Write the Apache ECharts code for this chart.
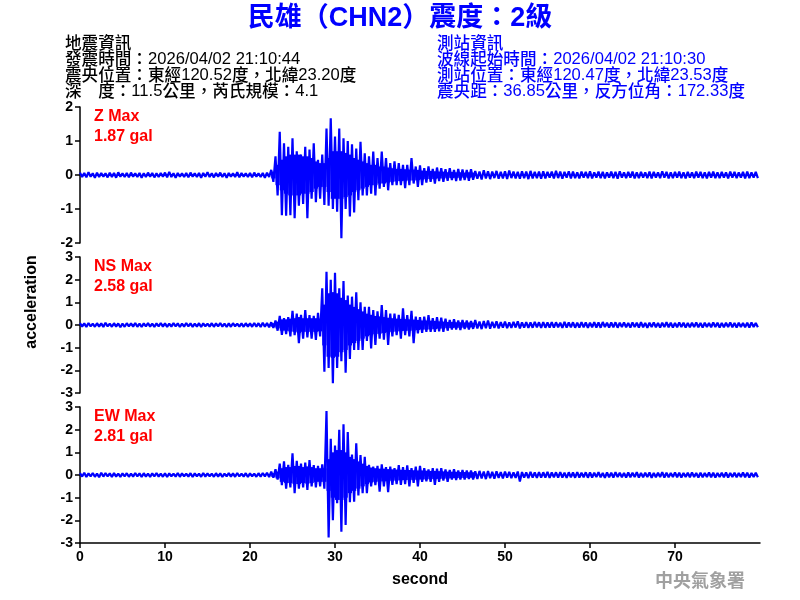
<!DOCTYPE html>
<html><head><meta charset="utf-8">
<script src="https://cdn.jsdelivr.net/npm/echarts@6/dist/echarts.min.js"></script>
<style>html,body{margin:0;padding:0;background:#fff}#c{width:800px;height:600px}</style>
</head><body><div id="c"></div>
<script>
// sample time step (s) for each max/min pair
const binSec = 0.5;
const xTicks = [0,10,20,30,40,50,60,70];
const zTicks = [-2,-1,0,1,2];
const hTicks = [-3,-2,-1,0,1,2,3];
const panelNames = ['Z Max','NS Max','EW Max'];
const panelMax = ['1.87 gal','2.58 gal','2.81 gal'];

const zHi = [0.07,0.06,0.08,0.05,0.07,0.06,0.05,0.07,0.06,0.08,
0.05,0.06,0.07,0.05,0.06,0.05,0.07,0.06,0.05,0.06,
0.07,0.09,0.05,0.06,0.05,0.06,0.07,0.05,0.06,0.06,
0.08,0.05,0.06,0.07,0.05,0.06,0.05,0.08,0.06,0.05,
0.06,0.07,0.05,0.06,0.07,0.15,0.55,1.27,0.93,0.83,
1.08,0.7,0.6,0.83,0.75,0.93,0.45,0.6,1.37,1.67,
1.13,1.37,1.08,1.0,0.9,0.78,0.98,0.64,0.55,0.69,
0.5,0.69,0.5,0.35,0.4,0.35,0.3,0.3,0.5,0.25,
0.28,0.2,0.25,0.18,0.22,0.2,0.17,0.2,0.15,0.18,
0.16,0.15,0.17,0.12,0.1,0.14,0.11,0.1,0.12,0.09,
0.11,0.13,0.1,0.09,0.11,0.1,0.12,0.09,0.1,0.11,
0.09,0.1,0.12,0.1,0.09,0.11,0.1,0.08,0.1,0.09,
0.11,0.08,0.1,0.09,0.08,0.1,0.09,0.11,0.08,0.09,
0.1,0.08,0.09,0.08,0.1,0.09,0.08,0.11,0.09,0.08,
0.09,0.1,0.08,0.09,0.08,0.1,0.09,0.08,0.09,0.1,
0.08,0.09,0.08,0.1,0.09,0.08,0.09,0.1,0.08,0.09];
const zLo = [-0.06,-0.07,-0.05,-0.08,-0.06,-0.05,-0.07,-0.06,-0.08,-0.05,
-0.06,-0.07,-0.05,-0.06,-0.08,-0.06,-0.05,-0.07,-0.06,-0.05,
-0.07,-0.06,-0.08,-0.05,-0.06,-0.07,-0.05,-0.06,-0.08,-0.05,
-0.06,-0.07,-0.05,-0.06,-0.08,-0.05,-0.06,-0.07,-0.05,-0.06,
-0.07,-0.05,-0.06,-0.08,-0.06,-0.2,-0.6,-1.18,-1.2,-1.18,
-1.27,-0.9,-0.85,-1.27,-0.7,-0.8,-0.7,-0.88,-0.9,-1.0,
-1.08,-1.86,-1.0,-1.22,-1.1,-0.74,-0.6,-0.6,-0.55,-0.6,
-0.4,-0.35,-0.45,-0.3,-0.3,-0.3,-0.39,-0.3,-0.25,-0.35,
-0.3,-0.22,-0.2,-0.25,-0.18,-0.2,-0.17,-0.15,-0.18,-0.16,
-0.15,-0.17,-0.14,-0.11,-0.13,-0.1,-0.12,-0.09,-0.11,-0.1,
-0.12,-0.09,-0.1,-0.11,-0.09,-0.12,-0.1,-0.09,-0.11,-0.1,
-0.08,-0.1,-0.09,-0.11,-0.08,-0.1,-0.09,-0.1,-0.08,-0.09,
-0.1,-0.08,-0.09,-0.1,-0.08,-0.09,-0.11,-0.08,-0.09,-0.08,
-0.1,-0.09,-0.08,-0.09,-0.1,-0.08,-0.09,-0.08,-0.1,-0.09,
-0.08,-0.09,-0.1,-0.08,-0.09,-0.08,-0.09,-0.1,-0.08,-0.09,
-0.09,-0.08,-0.1,-0.08,-0.09,-0.08,-0.1,-0.09,-0.08,-0.09];

const nsHi = [0.08,0.07,0.09,0.06,0.08,0.07,0.1,0.06,0.08,0.07,
0.06,0.08,0.07,0.09,0.06,0.07,0.08,0.06,0.07,0.09,
0.07,0.06,0.08,0.07,0.06,0.09,0.07,0.06,0.08,0.07,
0.06,0.08,0.07,0.09,0.06,0.07,0.08,0.06,0.07,0.08,
0.07,0.09,0.08,0.1,0.09,0.12,0.2,0.4,0.3,0.35,
0.62,0.5,0.45,0.66,0.44,0.4,0.54,1.62,2.35,1.99,
2.3,1.62,1.94,1.3,1.25,1.44,1.0,0.8,0.8,0.66,
0.6,0.88,0.66,0.5,0.5,0.45,0.74,0.44,0.62,0.37,
0.35,0.37,0.44,0.3,0.35,0.32,0.28,0.22,0.25,0.2,
0.22,0.2,0.18,0.22,0.15,0.17,0.2,0.14,0.16,0.13,
0.15,0.12,0.14,0.16,0.12,0.13,0.11,0.14,0.12,0.13,
0.11,0.13,0.12,0.1,0.14,0.11,0.12,0.1,0.13,0.11,
0.1,0.12,0.11,0.13,0.1,0.11,0.12,0.1,0.11,0.09,
0.11,0.1,0.12,0.09,0.1,0.11,0.09,0.1,0.12,0.1,
0.09,0.11,0.1,0.09,0.1,0.11,0.09,0.1,0.09,0.11,
0.1,0.09,0.1,0.11,0.09,0.1,0.09,0.1,0.11,0.09];
const nsLo = [-0.07,-0.09,-0.06,-0.08,-0.07,-0.09,-0.06,-0.08,-0.07,-0.1,
-0.08,-0.06,-0.07,-0.08,-0.09,-0.06,-0.07,-0.08,-0.06,-0.07,
-0.08,-0.07,-0.06,-0.09,-0.07,-0.06,-0.08,-0.07,-0.09,-0.06,
-0.07,-0.08,-0.06,-0.07,-0.09,-0.08,-0.06,-0.07,-0.08,-0.07,
-0.08,-0.07,-0.09,-0.08,-0.1,-0.13,-0.25,-0.44,-0.4,-0.5,
-0.45,-0.8,-0.6,-0.55,-0.6,-0.66,-0.5,-2.06,-1.9,-2.57,
-1.9,-1.6,-2.1,-1.5,-1.1,-1.1,-1.1,-0.7,-1.03,-0.88,
-0.6,-0.65,-0.88,-0.5,-0.45,-0.6,-0.45,-0.5,-0.8,-0.37,
-0.35,-0.3,-0.3,-0.3,-0.28,-0.3,-0.25,-0.2,-0.2,-0.22,
-0.18,-0.2,-0.17,-0.15,-0.18,-0.14,-0.16,-0.13,-0.15,-0.12,
-0.14,-0.13,-0.11,-0.15,-0.12,-0.13,-0.12,-0.1,-0.13,-0.12,
-0.11,-0.12,-0.1,-0.13,-0.11,-0.1,-0.12,-0.11,-0.1,-0.12,
-0.1,-0.11,-0.12,-0.09,-0.11,-0.1,-0.12,-0.09,-0.1,-0.11,
-0.09,-0.11,-0.1,-0.12,-0.09,-0.1,-0.11,-0.09,-0.1,-0.11,
-0.1,-0.09,-0.11,-0.1,-0.09,-0.1,-0.11,-0.09,-0.1,-0.09,
-0.11,-0.1,-0.09,-0.1,-0.11,-0.09,-0.1,-0.11,-0.09,-0.1];

const ewHi = [0.08,0.1,0.07,0.09,0.06,0.1,0.08,0.07,0.09,0.06,
0.07,0.08,0.06,0.09,0.07,0.08,0.06,0.07,0.09,0.06,
0.08,0.07,0.06,0.09,0.07,0.06,0.08,0.07,0.06,0.09,
0.07,0.06,0.08,0.07,0.06,0.08,0.07,0.09,0.06,0.08,
0.07,0.06,0.08,0.09,0.1,0.15,0.25,0.5,0.6,0.45,
0.96,0.62,0.5,0.55,0.66,0.44,0.4,0.47,2.82,1.6,
1.3,1.99,2.24,1.9,0.9,1.4,0.88,0.8,0.45,0.37,
0.4,0.47,0.35,0.37,0.3,0.44,0.35,0.42,0.3,0.37,
0.4,0.3,0.25,0.3,0.28,0.3,0.25,0.22,0.25,0.2,
0.22,0.2,0.2,0.16,0.18,0.15,0.17,0.14,0.16,0.13,
0.15,0.14,0.12,0.15,0.13,0.12,0.14,0.11,0.13,0.12,
0.14,0.11,0.12,0.13,0.1,0.12,0.11,0.13,0.1,0.12,
0.11,0.1,0.12,0.09,0.11,0.1,0.12,0.1,0.09,0.11,
0.1,0.12,0.09,0.1,0.11,0.09,0.1,0.12,0.1,0.09,
0.11,0.1,0.09,0.1,0.11,0.09,0.1,0.09,0.11,0.1,
0.09,0.1,0.11,0.09,0.1,0.09,0.11,0.1,0.09,0.1];
const ewLo = [-0.07,-0.09,-0.06,-0.08,-0.1,-0.07,-0.06,-0.09,-0.07,-0.08,
-0.06,-0.08,-0.07,-0.06,-0.09,-0.07,-0.08,-0.06,-0.07,-0.08,
-0.09,-0.06,-0.07,-0.08,-0.06,-0.07,-0.09,-0.06,-0.08,-0.07,
-0.06,-0.08,-0.07,-0.09,-0.06,-0.07,-0.08,-0.06,-0.07,-0.09,
-0.06,-0.08,-0.07,-0.06,-0.09,-0.12,-0.2,-0.45,-0.6,-0.55,
-0.8,-0.6,-0.55,-0.66,-0.5,-0.55,-0.5,-0.6,-2.76,-1.99,
-1.25,-2.5,-2.2,-1.2,-1.18,-0.9,-0.8,-0.8,-0.5,-0.45,
-0.74,-0.5,-0.76,-0.44,-0.4,-0.44,-0.4,-0.5,-0.35,-0.5,
-0.3,-0.28,-0.3,-0.44,-0.3,-0.25,-0.3,-0.2,-0.22,-0.2,
-0.2,-0.18,-0.2,-0.17,-0.15,-0.18,-0.14,-0.16,-0.13,-0.15,
-0.12,-0.14,-0.13,-0.29,-0.12,-0.14,-0.11,-0.13,-0.12,-0.11,
-0.13,-0.1,-0.12,-0.11,-0.13,-0.1,-0.12,-0.11,-0.1,-0.12,
-0.11,-0.09,-0.1,-0.12,-0.1,-0.11,-0.09,-0.1,-0.11,-0.1,
-0.09,-0.11,-0.1,-0.09,-0.12,-0.1,-0.09,-0.11,-0.1,-0.09,
-0.1,-0.11,-0.09,-0.1,-0.09,-0.11,-0.1,-0.09,-0.1,-0.11,
-0.09,-0.1,-0.11,-0.09,-0.1,-0.09,-0.1,-0.11,-0.09,-0.1];

// half-width of the solid (dense) core of each trace, bins from coreStartBin on (t = 22.5 s ...)
const coreStartBin = 45;
const zCore = [0.1,0.3,0.45,0.55,0.6,0.6,0.6,0.55,0.55,0.5,
0.4,0.35,0.35,0.5,0.7,0.7,0.7,0.65,0.6,0.5,
0.45,0.4,0.35,0.3,0.3,0.25,0.25,0.22,0.2,0.18,
0.18,0.17,0.16,0.16,0.15,0.13,0.12,0.12,0.11,0.1,
0.1,0.08,0.09,0.08,0.08,0.07,0.08,0.07];
const nsCore = [0.08,0.15,0.25,0.25,0.28,0.3,0.35,0.3,0.3,0.3,
0.3,0.28,0.9,1.4,1.45,1.4,1.2,1.1,0.9,0.8,
0.7,0.6,0.5,0.45,0.4,0.38,0.35,0.32,0.3,0.28,
0.27,0.26,0.25,0.24,0.22,0.2,0.2,0.19,0.18,0.16,
0.15,0.13,0.13,0.12,0.12,0.11,0.11,0.1];
const ewCore = [0.08,0.15,0.3,0.35,0.35,0.4,0.4,0.35,0.38,0.35,
0.3,0.3,0.3,0.7,1.0,1.1,1.1,1.0,0.8,0.7,
0.6,0.5,0.4,0.33,0.3,0.28,0.28,0.26,0.25,0.24,
0.23,0.22,0.22,0.21,0.2,0.2,0.19,0.18,0.18,0.17,
0.16,0.15,0.14,0.14,0.13,0.13,0.12,0.12];

const titleText = '民雄（CHN2）震度：2級';
const leftInfo = ['地震資訊','發震時間：2026/04/02 21:10:44','震央位置：東經120.52度，北緯23.20度','深　度：11.5公里，芮氏規模：4.1'];
const rightInfo = ['測站資訊','波線起始時間：2026/04/02 21:10:30','測站位置：東經120.47度，北緯23.53度','震央距：36.85公里，反方位角：172.33度'];

const FONT = '"Liberation Sans", Arial, "Noto Sans CJK TC", sans-serif';
const BLUE = '#0000ff';
function richCJK(s){
  return s.replace(/([\u3000-\u303f\u4e00-\u9fff\uff00-\uffef]+)/g, '{c|$1}');
}
function trace(hi, lo){
  const d = [];
  for (let i = 0; i < hi.length; i++) {
    d.push([i*binSec, hi[i]]);
    d.push([i*binSec + binSec/2, lo[i]]);
  }
  return d;
}
function coreData(core){
  return core.map((c, k) => [(coreStartBin + k) * binSec, c]);
}
const gridTops = [107, 257, 407];
const grids = gridTops.map(t => ({left:80, top:t, width:680, height:136}));
const xAxes = [0,1,2].map(i => ({
  type:'value', gridIndex:i, min:0, max:80, show: i===2,
  axisLine:{show:true, onZero:false, lineStyle:{color:'#000', width:1.5}},
  axisTick:{show:true, length:5, customValues:xTicks, lineStyle:{color:'#000', width:1.5}},
  axisLabel:{customValues:xTicks, color:'#000', fontWeight:'bold', fontSize:14, fontFamily:FONT, margin:7},
  splitLine:{show:false},
  name: i===2 ? 'second' : '', nameLocation:'middle', nameGap:29,
  nameTextStyle:{color:'#000', fontWeight:'bold', fontSize:16, fontFamily:FONT}
}));
const yAxes = [0,1,2].map(i => {
  const tk = i===0 ? zTicks : hTicks;
  return {
    type:'value', gridIndex:i, min:tk[0], max:tk[tk.length-1], interval:1,
    axisLine:{show:true, onZero:false, lineStyle:{color:'#000', width:1.5}},
    axisTick:{show:true, length:5, lineStyle:{color:'#000', width:1.5}},
    axisLabel:{color:'#000', fontWeight:'bold', fontSize:14, fontFamily:FONT, margin:7},
    splitLine:{show:false}
  };
});
const traces = [trace(zHi,zLo), trace(nsHi,nsLo), trace(ewHi,ewLo)];
const cores = [coreData(zCore), coreData(nsCore), coreData(ewCore)];
const series = [];
cores.forEach((d,i) => series.push({
  type:'custom', xAxisIndex:i, yAxisIndex:i, data:d, silent:true, animation:false, z:1,
  renderItem:function(params, api){
    const t = api.value(0), c = api.value(1);
    const p1 = api.coord([t, c]);
    const p2 = api.coord([t + binSec, -c]);
    return {type:'rect', shape:{x:p1[0], y:p1[1], width:p2[0]-p1[0], height:p2[1]-p1[1]}, style:{fill:BLUE}};
  }
}));
traces.forEach((d,i) => series.push({
  type:'line', xAxisIndex:i, yAxisIndex:i, data:d, showSymbol:false, symbol:'none', z:2,
  lineStyle:{color:BLUE, width:2.2, join:'bevel'}, sampling:null, animation:false, clip:true, silent:true
}));
const graphics = [];
graphics.push({type:'text', left:'center', top:5, style:{text:titleText, fill:BLUE, font:'bold 27px '+FONT}});
function infoText(x, y, t, color){
  return {type:'text', x:x, y:y, style:{text:richCJK(t), fill:color, font:'16.6px '+FONT, verticalAlign:'middle',
    rich:{c:{fill:color, fontWeight:500, fontSize:16.6, fontFamily:'"Noto Sans CJK TC", sans-serif'}}}};
}
leftInfo.forEach((t,k) => graphics.push(infoText(65, 43+16*k, t, '#000')));
rightInfo.forEach((t,k) => graphics.push(infoText(437, 43+16*k, t, BLUE)));
gridTops.forEach((t,k) => {
  graphics.push({type:'text', x:94, y:t+10, style:{text:panelNames[k], fill:'#ff0000', font:'bold 16px '+FONT, verticalAlign:'middle'}});
  graphics.push({type:'text', x:94, y:t+30, style:{text:panelMax[k], fill:'#ff0000', font:'bold 16px '+FONT, verticalAlign:'middle'}});
});
graphics.push({type:'text', x:32, y:302, rotation:Math.PI/2, style:{text:'acceleration', fill:'#000', font:'bold 16px '+FONT, align:'center', verticalAlign:'middle'}});
graphics.push({type:'text', x:700, y:580, style:{text:'中央氣象署', fill:'#a0a0a0', font:'bold 18px "Noto Sans CJK TC", serif', align:'center', verticalAlign:'middle'}});

const chart = echarts.init(document.getElementById('c'), null, {renderer:'canvas'});
chart.setOption({animation:false, backgroundColor:'#fff', grid:grids, xAxis:xAxes, yAxis:yAxes, series:series, graphic:graphics});
</script></body></html>
